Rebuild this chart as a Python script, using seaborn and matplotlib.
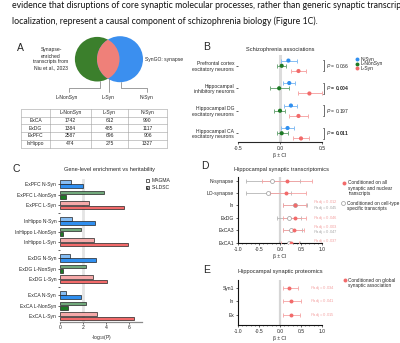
import numpy as np
import pandas as pd
import matplotlib
matplotlib.use("Agg")
import matplotlib.pyplot as plt
from matplotlib.patches import Circle, Rectangle
import seaborn as sns

# ---------------- data ----------------
# Panel A: transcript counts per cell type
table_cols = ["L-NonSyn", "L-Syn", "N-Syn"]
table_rows = ["ExCA", "ExDG", "ExPFC", "InHippo"]
count_lnonsyn = [1742, 1384, 2587, 474]
count_lsyn = [612, 485, 696, 275]
count_nsyn = [990, 1117, 906, 1327]

# Panel B: schizophrenia associations (beta and CI)
b_cells = ["Prefrontal cortex\nexcitatory neurons", "Hippocampal\ninhibitory neurons",
           "Hippocampal DG\nexcitatory neurons", "Hippocampal CA\nexcitatory neurons"]
b_sets = ["N-Syn", "L-NonSyn", "L-Syn"]
b_beta_nsyn = [0.10, 0.11, 0.13, 0.09]
b_lo_nsyn = [0.01, 0.04, 0.05, 0.01]
b_hi_nsyn = [0.20, 0.18, 0.20, 0.17]
b_beta_lnonsyn = [0.02, -0.01, 0.00, 0.02]
b_lo_lnonsyn = [-0.04, -0.12, -0.07, -0.04]
b_hi_lnonsyn = [0.07, 0.11, 0.06, 0.09]
b_beta_lsyn = [0.22, 0.35, 0.22, 0.25]
b_lo_lsyn = [0.13, 0.21, 0.11, 0.15]
b_hi_lsyn = [0.31, 0.50, 0.33, 0.35]
b_pvals = ["0.066", "0.004", "0.197", "0.011"]
b_bold = [False, True, False, True]

# Panel C: gene-level enrichment vs heritability
c_labels = ["ExPFC N-Syn", "ExPFC L-NonSyn", "ExPFC L-Syn",
            "InHippo N-Syn", "InHippo L-NonSyn", "InHippo L-Syn",
            "ExDG N-Syn", "ExDG L-NonSyn", "ExDG L-Syn",
            "ExCA N-Syn", "ExCA L-NonSyn", "ExCA L-Syn"]
c_magma = [0.93, 3.80, 2.49, 1.01, 1.80, 2.93, 0.90, 2.23, 2.84, 0.49, 2.23, 3.19]
c_sldsc = [1.97, 0.49, 5.54, 3.01, 0.29, 5.88, 3.10, 0.29, 4.06, 1.80, 0.67, 6.40]

# Panel D: hippocampal synaptic transcriptomics
d_rows = ["N-synapse", "LO-synapse", "In", "ExDG", "ExCA3", "ExCA1"]
d_all_beta = [0.16, 0.15, 0.35, 0.36, 0.33, 0.27]
d_all_lo = [-0.42, -0.25, 0.08, 0.08, 0.06, 0.02]
d_all_hi = [0.75, 0.61, 0.62, 0.63, 0.57, 0.45]
d_ct_beta = [-0.18, -0.29, 0.35, 0.21, 0.27, 0.21]
d_ct_lo = [-0.80, -0.80, 0.08, -0.08, 0.06, -0.02]
d_ct_hi = [0.48, 0.25, 0.65, 0.50, 0.52, 0.48]
d_padj_all = ["", "", "0.012", "0.046", "0.003", "0.037"]
d_padj_ct = ["", "", "0.045", "", "0.047", ""]

# Panel E: hippocampal synaptic proteomics
e_rows = ["Syn1", "In", "Ex"]
e_beta = [0.21, 0.25, 0.25]
e_lo = [0.06, 0.06, 0.08]
e_hi = [0.43, 0.49, 0.48]
e_padj = ["0.034", "0.041", "0.015"]

# ---------------- style ----------------
sns.set_theme(style="ticks")
plt.rcParams["font.family"] = ["Liberation Sans", "DejaVu Sans"]
plt.rcParams["mathtext.fontset"] = "custom"
plt.rcParams["mathtext.rm"] = "Liberation Sans"
plt.rcParams["mathtext.it"] = "Liberation Sans:italic"
plt.rcParams["mathtext.bf"] = "Liberation Sans:bold"

W, H = 400, 343
fig = plt.figure(figsize=(W / 100, H / 100), dpi=100)
fig.patch.set_facecolor("white")

def rect(l, t, r, b):
    return [l / W, 1 - b / H, (r - l) / W, (b - t) / H]

ov = fig.add_axes([0, 0, 1, 1], zorder=0)
ov.set_xlim(0, W)
ov.set_ylim(H, 0)
ov.axis("off")

FS = 3.6      # small labels
FP = 3.0      # adjusted p-value labels
FG = 3.4      # legend text at the right edge
FT = 4.1      # panel titles
FL = 7.5      # panel letters

BLUE, GREEN, RED = "#2f8ff0", "#1d7a24", "#f26a6a"
BLUE_L, GREEN_L, RED_L = "#86bdf3", "#72a97c", "#f6a9a9"
GRAY = "#9a9a9a"

# ---------------- running text ----------------
ov.text(12, 5.5, "evidence that disruptions of core synaptic molecular processes, rather than generic synaptic transcript",
        family=["Lato", "DejaVu Sans"], fontsize=6.3, va="center", ha="left", color="#111")
ov.text(12, 21.5, "localization, represent a causal component of schizophrenia biology (Figure 1C).",
        family=["Lato", "DejaVu Sans"], fontsize=6.3, va="center", ha="left", color="#111")

for letter, (x, y) in {"A": (20.5, 48), "B": (207, 47.5), "C": (16.5, 169),
                       "D": (205, 166), "E": (207, 270)}.items():
    ov.text(x, y, letter, fontsize=FL, ha="center", va="center")

# ---------------- panel A ----------------
g_circ = Circle((97.2, 59.2), 22.3, fc="#3b7f2c", ec="none", zorder=1)
b_circ = Circle((120.0, 59.2), 23.0, fc="#3b8fef", ec="none", zorder=1)
lens = Circle((97.2, 59.2), 22.3, fc="#ef8079", ec="none", zorder=2)
ov.add_patch(g_circ)
ov.add_patch(b_circ)
ov.add_patch(lens)
lens.set_clip_path(Circle((120.0, 59.2), 23.0, transform=ov.transData))

ov.text(51, 59, "Synapse-\nenriched\ntranscripts from\nNiu et al., 2023", fontsize=FS,
        ha="center", va="center", linespacing=1.25)
ov.text(145, 60, "SynGO: synapse", fontsize=FS, ha="left", va="center")

lc = dict(color="#777777", lw=0.5)
ov.plot([100, 100, 69, 69], [81.3, 88, 88, 92], **lc)
ov.plot([108.6, 108.6], [78.8, 92], **lc)
ov.plot([121, 121, 147, 147], [82.2, 88, 88, 92], **lc)
ov.text(67, 97, "L-NonSyn", fontsize=FS, ha="center", va="center")
ov.text(108.6, 97, "L-Syn", fontsize=FS, ha="center", va="center")
ov.text(147, 97, "N-Syn", fontsize=FS, ha="center", va="center")

col_edges = [21, 50, 91, 128, 167]
row_top, row_bot = 109, 147.5
nrow = len(table_rows) + 1
rh = (row_bot - row_top) / nrow
for x in col_edges:
    ov.plot([x, x], [row_top, row_bot], color="#a0a0a0", lw=0.4)
for i in range(nrow + 1):
    ov.plot([col_edges[0], col_edges[-1]], [row_top + i * rh] * 2, color="#a0a0a0", lw=0.4)
cell_values = [count_lnonsyn, count_lsyn, count_nsyn]
for j, name in enumerate(table_cols):
    cx = (col_edges[j + 1] + col_edges[j + 2]) / 2
    ov.text(cx, row_top + rh / 2, name, fontsize=FS, ha="center", va="center")
for i, name in enumerate(table_rows):
    cy = row_top + (i + 1.5) * rh
    ov.text((col_edges[0] + col_edges[1]) / 2, cy, name, fontsize=FS, ha="center", va="center")
    for j in range(3):
        cx = (col_edges[j + 1] + col_edges[j + 2]) / 2
        ov.text(cx, cy, str(cell_values[j][i]), fontsize=FS, ha="center", va="center")

# ---------------- panel B ----------------
axB = fig.add_axes(rect(238, 55, 322, 142))
axB.set_facecolor("none")
offs = {"N-Syn": -0.232, "L-NonSyn": 0.0, "L-Syn": 0.232}
b_recs = []
for s, be, lo, hi in [("N-Syn", b_beta_nsyn, b_lo_nsyn, b_hi_nsyn),
                      ("L-NonSyn", b_beta_lnonsyn, b_lo_lnonsyn, b_hi_lnonsyn),
                      ("L-Syn", b_beta_lsyn, b_lo_lsyn, b_hi_lsyn)]:
    for g in range(len(b_cells)):
        b_recs.append(dict(set=s, cell=g, beta=be[g], lo=lo[g], hi=hi[g], ypos=g + offs[s]))
dfB = pd.DataFrame(b_recs)
pal_B = {"N-Syn": BLUE, "L-NonSyn": GREEN, "L-Syn": RED}
pal_B_l = {"N-Syn": BLUE_L, "L-NonSyn": GREEN_L, "L-Syn": RED_L}
axB.axvline(0, color="#dcdcdc", lw=2.2, zorder=0)
for s, sub in dfB.groupby("set"):
    axB.errorbar(sub["beta"], sub["ypos"], xerr=[sub["beta"] - sub["lo"], sub["hi"] - sub["beta"]],
                 fmt="none", ecolor=pal_B_l[s], elinewidth=0.7, capsize=1.4, capthick=0.7, zorder=2)
sns.scatterplot(data=dfB, x="beta", y="ypos", hue="set", palette=pal_B, s=9, linewidth=0,
                legend=False, ax=axB, zorder=3)
axB.set_xlim(-0.5, 0.5)
axB.set_ylim(3.39, -0.48)
axB.set_yticks(range(len(b_cells)))
axB.set_yticklabels(b_cells, fontsize=FS, linespacing=1.1)
axB.set_xticks([-0.5, 0, 0.5])
axB.set_xticklabels(["-0.5", "0.0", "0.5"], fontsize=FS)
axB.set_xlabel("β ± CI", fontsize=FS, labelpad=1.5)
axB.set_ylabel("")
axB.tick_params(length=1.5, width=0.5, pad=1.2)
for sp in ["top", "right", "left"]:
    axB.spines[sp].set_visible(False)
axB.spines["bottom"].set_linewidth(0.8)
axB.set_title("Schizophrenia associations", fontsize=FT, pad=3)
for g, (p, bold) in enumerate(zip(b_pvals, b_bold)):
    y0, y1 = g - 0.25, g + 0.25
    axB.plot([0.515, 0.525, 0.525, 0.515], [y0, y0, y1, y1], color="#333", lw=0.5, clip_on=False)
    axB.text(0.55, g, r"$\mathit{P}$ = " + p, fontsize=FS, va="center", ha="left",
             fontweight="bold" if bold else "normal")
for k, s in enumerate(b_sets):
    y = 59 + 4.7 * k
    ov.scatter([357], [y], s=8, color=pal_B[s], linewidth=0)
    ov.text(361, y, s, fontsize=FS, va="center", ha="left")

# ---------------- panel C ----------------
axC = fig.add_axes(rect(60, 179.2, 142, 321.7))
axC.set_facecolor("none")
grp_step = 3.46
ypos_C = [g * grp_step + j for g in range(4) for j in range(3)]
gap_ticks = [g * grp_step + 2.73 for g in range(3)]
set_of = [lab.split(" ")[1] for lab in c_labels]
dfC = pd.DataFrame(dict(label=c_labels, set=set_of, magma=c_magma, sldsc=c_sldsc, y=ypos_C))
axC.axvline(2, color="#e4e4e4", lw=2, zorder=0)
bh = 0.34
for _, r in dfC.iterrows():
    axC.barh(r["y"] - 0.2, r["magma"], height=bh, color=pal_B_l[r["set"]], edgecolor="#222", lw=0.5)
    axC.barh(r["y"] + 0.2, r["sldsc"], height=bh, color=pal_B[r["set"]], edgecolor="#222", lw=0.5)
axC.set_xlim(0, 7.13)
axC.set_ylim(12.87, -0.45)
axC.set_yticks(ypos_C + gap_ticks)
axC.set_yticklabels(c_labels + [""] * len(gap_ticks), fontsize=FS)
axC.set_xticks([0, 2, 4, 6])
axC.set_xticklabels(["0", "2", "4", "6"], fontsize=FS)
axC.set_xlabel(r"-log$_{10}$(P)", fontsize=FS, labelpad=1.5)
axC.tick_params(length=1.5, width=0.5, pad=1.2)
for sp in ["top", "right", "left"]:
    axC.spines[sp].set_visible(False)
axC.spines["bottom"].set_color("#8a8a8a")
axC.spines["bottom"].set_linewidth(0.9)
ov.text(110, 169, "Gene-level enrichment vs heritability", fontsize=FT, ha="center", va="center")
ov.add_patch(Rectangle((145.7, 179.2), 3.6, 3.2, fc="white", ec="#222", lw=0.5))
ov.add_patch(Rectangle((145.7, 185.8), 3.6, 3.2, fc="#bdbdbd", ec="#222", lw=0.5, hatch="xxxx"))
ov.text(151.7, 180.8, "MAGMA", fontsize=FS, va="center", ha="left")
ov.text(151.7, 187.4, "S-LDSC", fontsize=FS, va="center", ha="left")

# ---------------- panel D ----------------
def forest(ax, rows):
    ax.set_facecolor("none")
    ax.axvline(0, color="#d6d6d6", lw=1.6, zorder=0)
    ax.set_xlim(-1, 1)
    ax.set_xticks([-1, -0.5, 0, 0.5, 1])
    ax.set_xticklabels(["-1.0", "-0.5", "0.0", "0.5", "1.0"], fontsize=FS)
    ax.set_xticks(np.arange(-1, 1.01, 0.1), minor=True)
    ax.set_yticks(range(len(rows)))
    ax.set_yticklabels(rows, fontsize=FS)
    ax.set_xlabel("β ± CI", fontsize=FS, labelpad=1.5)
    ax.set_ylabel("")
    ax.tick_params(length=1.5, width=0.5, pad=1.2)
    ax.tick_params(which="minor", length=0.9, width=0.4)
    for sp in ["top", "right"]:
        ax.spines[sp].set_visible(False)
    for sp in ["left", "bottom"]:
        ax.spines[sp].set_linewidth(0.8)
        ax.spines[sp].set_color("#111")

axD = fig.add_axes(rect(238, 176.5, 322, 243))
dfD = pd.DataFrame(dict(row=d_rows, y=range(len(d_rows)),
                        all_b=d_all_beta, all_lo=d_all_lo, all_hi=d_all_hi,
                        ct_b=d_ct_beta, ct_lo=d_ct_lo, ct_hi=d_ct_hi))
axD.errorbar(dfD["ct_b"], dfD["y"], xerr=[dfD["ct_b"] - dfD["ct_lo"], dfD["ct_hi"] - dfD["ct_b"]],
             fmt="none", ecolor="#b5b5b5", elinewidth=0.6, capsize=1.3, capthick=0.6, zorder=2)
axD.errorbar(dfD["all_b"], dfD["y"], xerr=[dfD["all_b"] - dfD["all_lo"], dfD["all_hi"] - dfD["all_b"]],
             fmt="none", ecolor="#f5a3a3", elinewidth=0.6, capsize=1.3, capthick=0.6, zorder=3)
sns.scatterplot(data=dfD, x="ct_b", y="y", s=8, facecolor="white", edgecolor=GRAY, linewidth=0.5,
                ax=axD, zorder=4)
sns.scatterplot(data=dfD, x="all_b", y="y", s=8, color=RED, linewidth=0, ax=axD, zorder=5)
forest(axD, d_rows)
axD.set_ylim(5.03, -0.34)
for i in range(len(d_rows)):
    if d_padj_all[i]:
        dy = -0.3 if d_padj_ct[i] else (0.0 if i < 5 else -0.16)
        axD.text(0.79, i + dy, r"$\mathit{P}$adj = " + d_padj_all[i], fontsize=FP,
                 color="#f4a3a3", va="center", ha="left", clip_on=False)
    if d_padj_ct[i]:
        axD.text(0.79, i + 0.17, r"$\mathit{P}$adj = " + d_padj_ct[i], fontsize=FP,
                 color="#aaaaaa", va="center", ha="left", clip_on=False)
ov.text(282, 170, "Hippocampal synaptic transcriptomics", fontsize=FT, ha="center", va="center")
ov.scatter([344.3], [182.7], s=8, color=RED, linewidth=0)
ov.text(348.5, 180.4, "Conditioned on all\nsynaptic and nuclear\ntranscripts", fontsize=FG,
        va="top", ha="left", linespacing=1.05)
ov.scatter([342.7], [203.3], s=8, facecolor="white", edgecolor=GRAY, linewidth=0.5)
ov.text(347, 201.0, "Conditioned on cell-type\nspecific transcripts", fontsize=FG,
        va="top", ha="left", linespacing=1.05)

# ---------------- panel E ----------------
axE = fig.add_axes(rect(238, 280, 322, 325))
dfE = pd.DataFrame(dict(row=e_rows, y=range(len(e_rows)), beta=e_beta, lo=e_lo, hi=e_hi))
axE.errorbar(dfE["beta"], dfE["y"], xerr=[dfE["beta"] - dfE["lo"], dfE["hi"] - dfE["beta"]],
             fmt="none", ecolor="#f5a3a3", elinewidth=0.6, capsize=1.3, capthick=0.6, zorder=3)
sns.scatterplot(data=dfE, x="beta", y="y", s=8, color=RED, linewidth=0, ax=axE, zorder=5)
forest(axE, e_rows)
axE.set_ylim(2.74, -0.59)
for i, p in enumerate(e_padj):
    axE.text(0.71, i, r"$\mathit{P}$adj = " + p, fontsize=FP, color="#f4a3a3",
             va="center", ha="left", clip_on=False)
ov.text(280, 272, "Hippocampal synaptic proteomics", fontsize=FT, ha="center", va="center")
ov.scatter([345], [280], s=8, color=RED, linewidth=0)
ov.text(348.5, 277.8, "Conditioned on global\nsynaptic association", fontsize=FG,
        va="top", ha="left", linespacing=1.05)

fig.savefig("out.png", dpi=100, facecolor="white")
